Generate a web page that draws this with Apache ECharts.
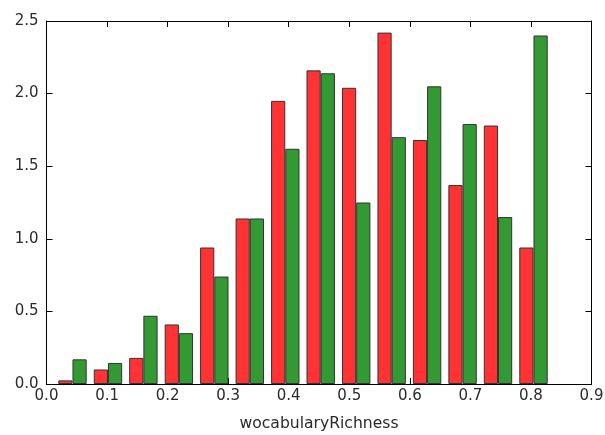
<!DOCTYPE html>
<html>
<head>
<meta charset="utf-8">
<script src="https://cdn.jsdelivr.net/npm/echarts@6/dist/echarts.min.js"></script>
<style>
  html, body { margin: 0; padding: 0; background: #fff; }
  #chart { width: 605px; height: 435px; }
</style>
</head>
<body>
<div id="chart"></div>
<script>
// histogram bin centres (wocabularyRichness)
const binCenters = [0.0429, 0.1015, 0.1600, 0.2186, 0.2771, 0.3357, 0.3943,
  0.4528, 0.5114, 0.5700, 0.6285, 0.6871, 0.7456, 0.8042];
const redValues = [0.025, 0.10, 0.18, 0.41, 0.94, 1.14, 1.95,
  2.16, 2.04, 2.42, 1.68, 1.37, 1.78, 0.94];
const greenValues = [0.17, 0.145, 0.47, 0.35, 0.74, 1.14, 1.62,
  2.14, 1.25, 1.70, 2.05, 1.79, 1.15, 2.40];
const xTicks = [0.0, 0.1, 0.2, 0.3, 0.4, 0.5, 0.6, 0.7, 0.8, 0.9];
const yTicks = [0.0, 0.5, 1.0, 1.5, 2.0, 2.5];

const chart = echarts.init(document.getElementById("chart"));

const textStyle = { color: "#2a2a2a", fontSize: 15, fontFamily: "DejaVu Sans" };
const frameLine = { show: true, onZero: false, lineStyle: { color: "#000", width: 1 } };
const innerTick = { show: true, inside: true, length: 6, lineStyle: { color: "#000" } };

const xBase = {
  type: "value",
  min: xTicks[0],
  max: xTicks[xTicks.length - 1],
  interval: 0.1,
  splitLine: { show: false },
  axisLine: frameLine,
  axisTick: innerTick,
};
const yBase = {
  type: "value",
  min: yTicks[0],
  max: yTicks[yTicks.length - 1],
  interval: 0.5,
  splitLine: { show: false },
  axisLine: frameLine,
  axisTick: innerTick,
};

const option = {
  animation: false,
  grid: { left: 46.5, right: 13.5, top: 21, bottom: 51, outerBoundsMode: "none", containLabel: false },
  xAxis: [
    {
      ...xBase,
      position: "bottom",
      name: "wocabularyRichness",
      nameLocation: "middle",
      nameGap: 32,
      nameTextStyle: { ...textStyle, fontSize: 15.6 },
      axisLabel: { ...textStyle, margin: 5, formatter: (v) => v.toFixed(1) },
    },
    { ...xBase, position: "top", axisLabel: { show: false } },
  ],
  yAxis: [
    {
      ...yBase,
      position: "left",
      axisLabel: { ...textStyle, margin: 8, formatter: (v) => v.toFixed(1) },
    },
    { ...yBase, position: "right", axisLabel: { show: false } },
  ],
  series: [
    {
      type: "bar",
      xAxisIndex: 0,
      yAxisIndex: 0,
      barWidth: 14.2,
      barGap: "0%",
      itemStyle: { color: "#ff3333", borderColor: "#333", borderWidth: 1 },
      data: binCenters.map((x, i) => [x, redValues[i]]),
    },
    {
      type: "bar",
      xAxisIndex: 0,
      yAxisIndex: 0,
      barWidth: 14.2,
      barGap: "0%",
      itemStyle: { color: "#339933", borderColor: "#333", borderWidth: 1 },
      data: binCenters.map((x, i) => [x, greenValues[i]]),
    },
  ],
};

chart.setOption(option);
</script>
</body>
</html>
